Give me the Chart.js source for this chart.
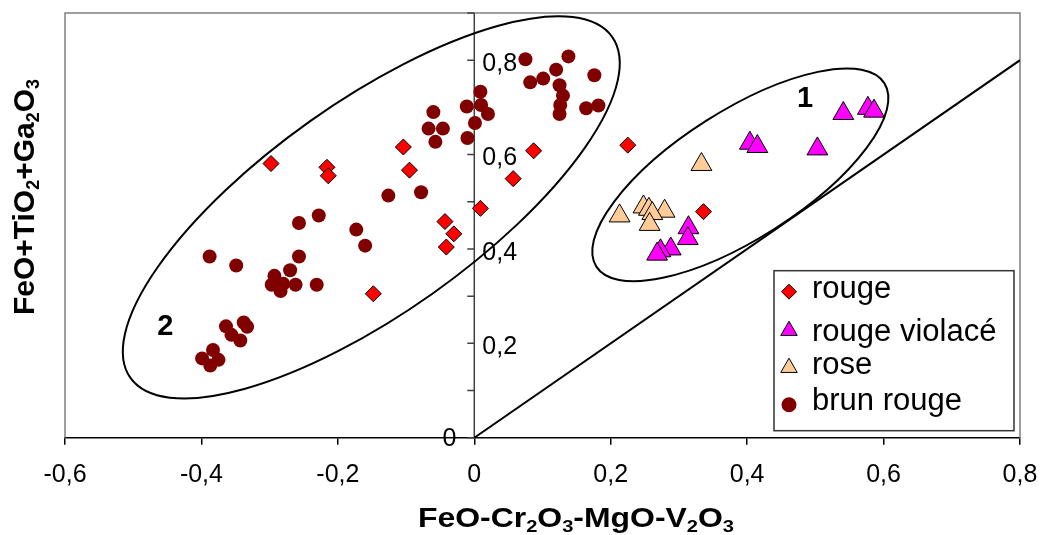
<!DOCTYPE html>
<html lang="fr">
<head>
<meta charset="utf-8">
<title>FeO+TiO2+Ga2O3 / FeO-Cr2O3-MgO-V2O3</title>
<script src="https://cdn.jsdelivr.net/npm/chart.js@4/dist/chart.umd.min.js"></script>
<style>
  html, body { margin: 0; padding: 0; background: #fff; }
  canvas { display: block; }
</style>
</head>
<body>
<canvas id="chart" width="1042" height="535"></canvas>
<script>
// Séries
const rougeX = [-0.298, -0.216, -0.214, -0.104, -0.095, 0.009, -0.043, -0.030, -0.041, 0.087, 0.057, 0.225, 0.336, -0.148];
const rougeY = [0.581, 0.573, 0.555, 0.616, 0.567, 0.486, 0.458, 0.432, 0.404, 0.608, 0.549, 0.620, 0.479, 0.305];

const violaceX = [0.541, 0.577, 0.586, 0.404, 0.415, 0.503, 0.314, 0.313, 0.288, 0.273, 0.268];
const violaceY = [0.687, 0.698, 0.692, 0.624, 0.617, 0.612, 0.445, 0.422, 0.400, 0.396, 0.389];

const roseX = [0.333, 0.213, 0.248, 0.256, 0.279, 0.261, 0.257];
const roseY = [0.579, 0.470, 0.489, 0.484, 0.480, 0.475, 0.452];

const brunX = [0.075, 0.138, 0.120, 0.176, 0.082, 0.101, 0.125, 0.130, 0.126, 0.125, 0.164, 0.182,
  0.009, -0.011, 0.010, 0.020, 0.001, -0.010, -0.060, -0.067, -0.046, -0.057,
  -0.126, -0.078, -0.228, -0.257, -0.173, -0.160, -0.388, -0.349, -0.257, -0.270, -0.293, -0.297,
  -0.280, -0.284, -0.262, -0.231,
  -0.364, -0.338, -0.333, -0.356, -0.343, -0.383, -0.399, -0.375, -0.387];
const brunY = [0.802, 0.808, 0.780, 0.768, 0.753, 0.761, 0.747, 0.725, 0.705, 0.686, 0.698, 0.704,
  0.733, 0.702, 0.705, 0.686, 0.667, 0.635, 0.690, 0.655, 0.655, 0.627,
  0.513, 0.520, 0.471, 0.455, 0.441, 0.407, 0.384, 0.365, 0.384, 0.355, 0.343, 0.324,
  0.326, 0.311, 0.324, 0.324,
  0.236, 0.244, 0.235, 0.218, 0.206, 0.186, 0.168, 0.165, 0.153];

// Droite y = x
const droiteX = [0, 0.8];
const droiteY = [0, 0.8];

// Axes
const xTicks = [-0.6, -0.4, -0.2, 0, 0.2, 0.4, 0.6, 0.8];
const xTickLabels = ['-0,6', '-0,4', '-0,2', '0', '0,2', '0,4', '0,6', '0,8'];
const yTicks = [0, 0.1, 0.2, 0.3, 0.4, 0.5, 0.6, 0.7, 0.8, 0.9];
const yLabelValues = [0, 0.2, 0.4, 0.6, 0.8];
const yTickLabels = ['0', '0,2', '0,4', '0,6', '0,8'];

// Ellipses (centre en données, demi-axes en unités de x, angle en degrés) et leurs numéros
const ellipses = [
  { cx: -0.151, cy: 0.488, a: 0.4326, b: 0.155, angle: -35.3, label: '2', lx: -0.453, ly: 0.234 },
  { cx: 0.390, cy: 0.557, a: 0.2503, b: 0.0937, angle: -32.5, label: '1', lx: 0.485, ly: 0.718 }
];

const seriesNames = ['rouge', 'rouge violacé', 'rose', 'brun rouge'];

function pts(xs, ys) {
  return xs.map((x, i) => ({ x: x, y: ys[i] }));
}

const FONT = '"Liberation Sans", Arial, sans-serif';

// Texte avec indices (H2O...)
function drawRich(ctx, parts, size, subSize, drop, targetWidth) {
  let w = 0;
  parts.forEach(p => {
    ctx.font = 'bold ' + (p[1] ? subSize : size) + 'px ' + FONT;
    w += ctx.measureText(p[0]).width;
  });
  const sx = targetWidth ? targetWidth / w : 1;
  ctx.save();
  ctx.scale(sx, 1);
  let x = -w / 2;
  ctx.textAlign = 'left';
  ctx.textBaseline = 'alphabetic';
  parts.forEach(p => {
    ctx.font = 'bold ' + (p[1] ? subSize : size) + 'px ' + FONT;
    ctx.fillText(p[0], x, p[1] ? drop : 0);
    x += ctx.measureText(p[0]).width;
  });
  ctx.restore();
}

function marker(ctx, style, x, y, r, fill) {
  ctx.save();
  ctx.fillStyle = fill;
  ctx.strokeStyle = '#000';
  ctx.lineWidth = 1;
  ctx.beginPath();
  if (style === 'rectRot') {
    ctx.moveTo(x - r, y); ctx.lineTo(x, y - r); ctx.lineTo(x + r, y); ctx.lineTo(x, y + r);
    ctx.closePath(); ctx.fill(); ctx.stroke();
  } else if (style === 'triangle') {
    ctx.moveTo(x, y - r); ctx.lineTo(x + r * 0.866, y + r / 2); ctx.lineTo(x - r * 0.866, y + r / 2);
    ctx.closePath(); ctx.fill(); ctx.stroke();
  } else {
    ctx.arc(x, y, r, 0, Math.PI * 2); ctx.fill();
  }
  ctx.restore();
}

const decor = {
  id: 'decor',
  beforeDatasetsDraw(chart) {
    const ctx = chart.ctx;
    const ca = chart.chartArea;
    const xs = chart.scales.x, ys = chart.scales.y;
    ctx.save();
    // cadre gris
    ctx.strokeStyle = '#808080';
    ctx.lineWidth = 1.5;
    ctx.beginPath();
    ctx.moveTo(ca.left, ca.bottom);
    ctx.lineTo(ca.left, ca.top);
    ctx.lineTo(ca.right, ca.top);
    ctx.lineTo(ca.right, ca.bottom);
    ctx.stroke();

    // axe vertical en x = 0
    const x0 = xs.getPixelForValue(0);
    ctx.strokeStyle = '#404040';
    ctx.beginPath();
    ctx.moveTo(x0, ys.getPixelForValue(0));
    ctx.lineTo(x0, ys.getPixelForValue(0.9));
    yTicks.forEach(t => {
      const py = ys.getPixelForValue(t);
      ctx.moveTo(x0 - 7, py);
      ctx.lineTo(x0, py);
    });
    ctx.stroke();

    ctx.fillStyle = '#000';
    ctx.font = '25px ' + FONT;
    ctx.textBaseline = 'middle';
    yLabelValues.forEach((v, i) => {
      const py = ys.getPixelForValue(v);
      if (v === 0) {
        ctx.textAlign = 'right';
        ctx.fillText(yTickLabels[i], x0 - 18, py + 1);
      } else {
        ctx.textAlign = 'left';
        ctx.fillText(yTickLabels[i], x0 + 8, py + 4);
      }
    });
    ctx.restore();
  },
  afterDatasetsDraw(chart) {
    const ctx = chart.ctx;
    const ca = chart.chartArea;
    const xs = chart.scales.x, ys = chart.scales.y;
    const unit = xs.getPixelForValue(1) - xs.getPixelForValue(0);

    ctx.save();
    // ellipses
    ctx.strokeStyle = '#000';
    ctx.lineWidth = 2;
    ellipses.forEach(e => {
      ctx.beginPath();
      ctx.ellipse(xs.getPixelForValue(e.cx), ys.getPixelForValue(e.cy), e.a * unit, e.b * unit,
        e.angle * Math.PI / 180, 0, Math.PI * 2);
      ctx.stroke();
      ctx.fillStyle = '#000';
      ctx.font = 'bold 29px ' + FONT;
      ctx.textAlign = 'center';
      ctx.textBaseline = 'middle';
      ctx.fillText(e.label, xs.getPixelForValue(e.lx), ys.getPixelForValue(e.ly));
    });

    // légende
    const lx = ca.right - 246, ly = ca.bottom - 167;
    ctx.fillStyle = '#fff';
    ctx.fillRect(lx, ly, 240, 160);
    ctx.strokeStyle = '#333';
    ctx.lineWidth = 1.5;
    ctx.strokeRect(lx, ly, 240, 160);
    const rows = [21, 60, 97, 134];
    const base = [27, 70, 103, 139];
    chart.data.datasets.slice(0, 4).forEach((ds, i) => {
      const r = ds.pointStyle === 'triangle' ? 9.5 : 7.5;
      marker(ctx, ds.pointStyle, lx + 15, ly + rows[i], r, ds.backgroundColor);
      ctx.fillStyle = '#000';
      ctx.font = '31px ' + FONT;
      ctx.textAlign = 'left';
      ctx.textBaseline = 'alphabetic';
      ctx.fillText(seriesNames[i], lx + 38, ly + base[i]);
    });

    // titres des axes
    ctx.fillStyle = '#000';
    ctx.save();
    ctx.translate(576, 527);
    drawRich(ctx, [['FeO-Cr', 0], ['2', 1], ['O', 0], ['3', 1], ['-MgO-V', 0], ['2', 1], ['O', 0], ['3', 1]], 27, 17, 5, 316);
    ctx.restore();
    ctx.save();
    ctx.translate(34, 197);
    ctx.rotate(-Math.PI / 2);
    drawRich(ctx, [['FeO+TiO', 0], ['2', 1], ['+Ga', 0], ['2', 1], ['O', 0], ['3', 1]], 30, 18, 5, 0);
    ctx.restore();
    ctx.restore();
  }
};

const ctx = document.getElementById('chart').getContext('2d');

const chart = new Chart(ctx, {
  type: 'scatter',
  data: {
    datasets: [{
      label: seriesNames[0],
      data: pts(rougeX, rougeY),
      pointStyle: 'rectRot',
      pointRadius: 8,
      backgroundColor: '#FF0000',
      borderColor: '#000000',
      borderWidth: 1,
    }, {
      label: seriesNames[1],
      data: pts(violaceX, violaceY),
      pointStyle: 'triangle',
      pointRadius: 12,
      backgroundColor: '#FF00FF',
      borderColor: '#000000',
      borderWidth: 1,
    }, {
      label: seriesNames[2],
      data: pts(roseX, roseY),
      pointStyle: 'triangle',
      pointRadius: 12,
      backgroundColor: '#FFCC99',
      borderColor: '#000000',
      borderWidth: 1,
    }, {
      label: seriesNames[3],
      data: pts(brunX, brunY),
      pointStyle: 'circle',
      pointRadius: 7,
      backgroundColor: '#800000',
      borderColor: '#800000',
      borderWidth: 0,
    }, {
      type: 'line',
      label: 'y = x',
      data: pts(droiteX, droiteY),
      borderColor: '#000000',
      borderWidth: 2,
      pointRadius: 0,
      fill: false,
    }]
  },
  options: {
    responsive: false,
    animation: false,
    devicePixelRatio: 1,
    layout: { padding: { left: 65, right: 22, top: 12, bottom: 0 } },
    plugins: {
      legend: { display: false },
      tooltip: { enabled: false }
    },
    scales: {
      x: {
        type: 'linear',
        min: -0.6,
        max: 0.8,
        afterBuildTicks: s => { s.ticks = xTicks.map(v => ({ value: v })); },
        afterFit: s => { s.height = 97.3; s.paddingLeft = 0; s.paddingRight = 0; },
        grid: { drawOnChartArea: false, drawTicks: true, tickLength: 7, color: '#000', lineWidth: 1.5 },
        border: { display: true, color: '#000', width: 1.5 },
        ticks: {
          color: '#000',
          font: { family: FONT, size: 25 },
          padding: 15,
          maxRotation: 0,
          callback: (v, i) => xTickLabels[i]
        }
      },
      y: {
        type: 'linear',
        display: false,
        min: 0,
        max: 0.9
      }
    }
  },
  plugins: [decor]
});
</script>
</body>
</html>
